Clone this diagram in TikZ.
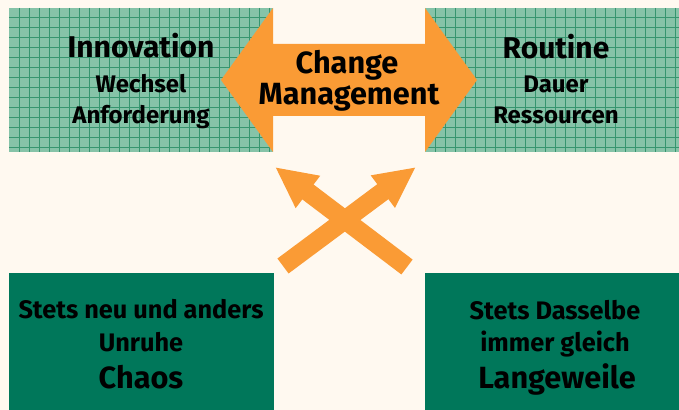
\documentclass[tikz,border=0pt]{standalone}
\usepackage{fontspec}
\setmainfont{Fira Sans}
\usetikzlibrary{arrows.meta}
\definecolor{cream}{HTML}{FFF9F0}
\definecolor{gridfill}{HTML}{86C3A8}
\definecolor{gridline}{HTML}{36956F}
\definecolor{darkgreen}{HTML}{00775A}
\definecolor{arroworange}{HTML}{FA9B35}
\tikzset{
  gridbox/.style={fill=gridfill},
  gridrule/.style={draw=gridline,line width=0.6pt},
  solidbox/.style={fill=darkgreen},
  headline/.style={anchor=base,font=\fontsize{22.5}{26}\selectfont\bfseries},
  subline/.style={anchor=base,font=\fontsize{18}{21}\selectfont\bfseries},
  changeline/.style={anchor=base,font=\fontsize{23}{27}\selectfont\bfseries},
  lowline/.style={anchor=base,font=\fontsize{19}{22}\selectfont\bfseries},
  lowhead/.style={anchor=base,font=\fontsize{23}{27}\selectfont\bfseries},
  crossarrow/.style={draw=arroworange,line width=14pt,-{Triangle[length=31pt,width=28pt]}}
}
\begin{document}
\begin{tikzpicture}[x=0.75pt,y=-0.75pt]
\useasboundingbox (0,0) rectangle (679,410);
\fill[cream] (0,0) rectangle (679,410);
% top boxes with grid
\fill[gridbox] (9,8) rectangle (273,152);
\fill[gridbox] (425,8) rectangle (679,152);
\foreach \gx in {19,29,...,269} \draw[gridrule] (\gx,8) -- (\gx,152);
\foreach \gx in {435,445,...,675} \draw[gridrule] (\gx,8) -- (\gx,152);
\foreach \gy in {17,27,...,147} {
  \draw[gridrule] (9,\gy) -- (273,\gy);
  \draw[gridrule] (425,\gy) -- (679,\gy);
}
% bottom boxes
\fill[solidbox] (9,273) rectangle (274,410);
\fill[solidbox] (425,273) rectangle (679,410);
% double arrow
\fill[arroworange] (221,80) -- (273,8) -- (273,44) -- (425,44) -- (425,8) -- (477,80)
  -- (425,152) -- (425,116) -- (273,116) -- (273,152) -- cycle;
% crossing arrows
\coordinate (lowleft) at (283,266);
\coordinate (topright) at (416,167);
\coordinate (lowright) at (407,267);
\coordinate (topleft) at (275,167);
\draw[crossarrow] (lowleft) -- (topright);
\draw[crossarrow] (lowright) -- (topleft);
% texts
\node[headline] (innov) at (141,58) {Innovation};
\node[subline] (wechsel) at (141,93) {Wechsel};
\node[subline] (anford) at (141,123) {Anforderung};
\node[headline] (routine) at (556,59) {Routine};
\node[subline] (dauer) at (556,93) {Dauer};
\node[subline] (ressourcen) at (556,123) {Ressourcen};
\node[changeline] (change) at (347,74) {Change};
\node[changeline] (mgmt) at (349,104) {Management};
\node[lowline] (stetsneu) at (141,318) {Stets neu und anders};
\node[lowline] (unruhe) at (141,351) {Unruhe};
\node[lowhead] (chaos) at (141,388) {Chaos};
\node[lowline] (stetsdas) at (555,319) {Stets Dasselbe};
\node[lowline] (gleich) at (555,351) {immer gleich};
\node[lowhead] (langeweile) at (557,388) {Langeweile};
\end{tikzpicture}
\end{document}
